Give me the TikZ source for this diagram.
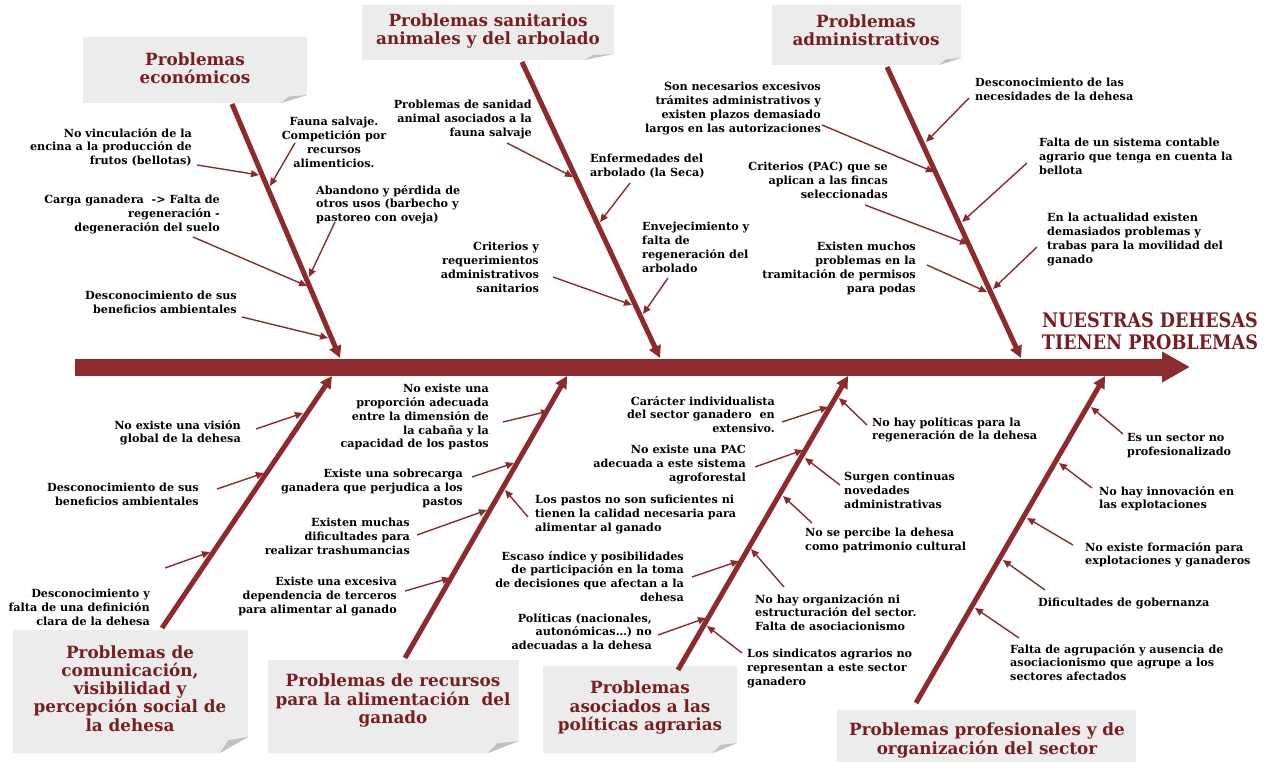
\documentclass[tikz,border=0pt]{standalone}
\usepackage{fontspec}
\setmainfont{DejaVu Serif}
\newfontfamily\headfont{DejaVu Serif}[FakeStretch=0.88]
\usetikzlibrary{arrows.meta}
\definecolor{fish}{RGB}{140,42,46}
\definecolor{ttlcol}{RGB}{120,30,34}
\definecolor{boxgray}{RGB}{236,236,236}
\definecolor{foldgray}{RGB}{192,192,192}
\newcommand{\fishbox}[6]{%
  \fill[boxgray] (#1,#2) -- (#3,#2) -- (#3,#4-#6) -- (#3-#5,#4) -- (#1,#4) -- cycle;
  \fill[foldgray] (#3-#5,#4) -- (#3-#5*0.7,#4-#6*0.8) -- (#3,#4-#6) -- cycle;}
\begin{document}
\begin{tikzpicture}[x=1pt,y=-1pt,
  lbl/.style={font=\bfseries\fontsize{11.2}{13.8}\selectfont, inner sep=0pt, text=black},
  lblr/.style={lbl, align=right, anchor=north east},
  lbll/.style={lbl, align=left, anchor=north west},
  lblc/.style={lbl, align=center, anchor=north},
  ttl/.style={font=\bfseries\fontsize{16.8}{18.2}\selectfont, text=ttlcol, align=center, inner sep=0pt},
  headtxt/.style={font=\headfont\bfseries\fontsize{20}{22}\selectfont, text=ttlcol, align=center, inner sep=0pt},
  bone/.style={draw=fish, line width=5pt, -{Triangle[length=12pt,width=12pt]}},
  cause/.style={draw=fish, line width=1.4pt, -{Triangle[length=8pt,width=7pt]}},
  spine/.style={draw=fish, line width=17pt, -{Triangle[length=28pt,width=29pt]}}
]
\fill[white] (0,0) rectangle (1267,762);
\useasboundingbox (0,0) rectangle (1267,762);

% title boxes
\fishbox{83}{37}{307}{103}{26}{8}
\fishbox{362}{5}{614}{60}{30}{6}
\fishbox{772}{5}{961}{65}{22}{7}
\fishbox{13}{630}{248}{753}{28}{16}
\fishbox{268}{660}{519}{753}{31}{12}
\fishbox{543}{666}{737}{753}{24}{10}
\fill[boxgray] (837,710) rectangle (1136,762);

\node[ttl] (econT) at (195,68.5) {Problemas\\económicos};
\node[ttl] (sanT) at (488,31) {Problemas sanitarios\\animales y del arbolado};
\node[ttl] (admT) at (866,30.5) {Problemas\\administrativos};
\node[ttl] (comT) at (130,688.5) {Problemas de\\comunicación,\\visibilidad y\\percepción social de\\la dehesa};
\node[ttl] (recT) at (393,700.5) {Problemas de recursos\\para la alimentación\ \ del\\ganado};
\node[ttl] (polT) at (640,707.5) {Problemas\\asociados a las\\políticas agrarias};
\node[ttl] (proT) at (987,740.5) {Problemas profesionales y de\\organización del sector};

% branch ends
\coordinate (econB) at (232,104); \coordinate (econS) at (340,358);
\coordinate (sanB) at (522,62);   \coordinate (sanS) at (660,358);
\coordinate (admB) at (887,67);   \coordinate (admS) at (1021,358);
\coordinate (comB) at (162,628);  \coordinate (comS) at (332,376);
\coordinate (recB) at (405,658);  \coordinate (recS) at (567,376);
\coordinate (polB) at (678,670);  \coordinate (polS) at (848,376);
\coordinate (proB) at (916,703);  \coordinate (proS) at (1105,376);
\coordinate (spineL) at (75,367); \coordinate (spineR) at (1190,367);

\draw[bone] (econB) -- (econS);
\draw[bone] (sanB) -- (sanS);
\draw[bone] (admB) -- (admS);
\draw[bone] (comB) -- (comS);
\draw[bone] (recB) -- (recS);
\draw[bone] (polB) -- (polS);
\draw[bone] (proB) -- (proS);
\draw[spine] (spineL) -- (spineR);

\node[headtxt] (head) at (1150,331) {NUESTRAS DEHESAS\\TIENEN PROBLEMAS};

% economic
\node[lblr] (e1) at (192,128) {No vinculación de la\\encina a la producción de\\frutos (bellotas)};
\node[lblc] (e2) at (334,117) {Fauna salvaje.\\Competición por\\recursos\\alimenticios.};
\node[lblr] (e3) at (220,195) {Carga ganadera\ \ -> Falta de\\regeneración -\\degeneración del suelo};
\node[lbll] (e4) at (316,185) {Abandono y pérdida de\\otros usos (barbecho y\\pastoreo con oveja)};
\node[lblr] (e5) at (237,291) {Desconocimiento de sus\\beneficios ambientales};
\draw[cause] (197,165) coordinate (e1a) -- (259,175) coordinate (e1b);
\draw[cause] (295,143) coordinate (e2a) -- (270,186) coordinate (e2b);
\draw[cause] (193,237) coordinate (e3a) -- (307,286) coordinate (e3b);
\draw[cause] (335,222) coordinate (e4a) -- (309,277) coordinate (e4b);
\draw[cause] (242,317) coordinate (e5a) -- (328,338) coordinate (e5b);

% sanitarios
\node[lblr] (s1) at (532,100) {Problemas de sanidad\\animal asociados a la\\fauna salvaje};
\node[lbll] (s2) at (590,154) {Enfermedades del\\arbolado (la Seca)};
\node[lblr] (s3) at (539,242) {Criterios y\\requerimientos\\administrativos\\sanitarios};
\node[lbll] (s4) at (642,222) {Envejecimiento y\\falta de\\regeneración del\\arbolado};
\draw[cause] (507,143) coordinate (s1a) -- (573,177) coordinate (s1b);
\draw[cause] (630,183) coordinate (s2a) -- (600,222) coordinate (s2b);
\draw[cause] (553,277) coordinate (s3a) -- (632,305) coordinate (s3b);
\draw[cause] (668,278) coordinate (s4a) -- (643,314) coordinate (s4b);

% administrativos
\node[lblr] (a1) at (821,82) {Son necesarios excesivos\\trámites administrativos y\\existen plazos demasiado\\largos en las autorizaciones};
\node[lbll] (a2) at (975,78) {Desconocimiento de las\\necesidades de la dehesa};
\node[lbll] (a3) at (1039,138) {Falta de un sistema contable\\agrario que tenga en cuenta la\\bellota};
\node[lblr] (a4) at (888,162) {Criterios (PAC) que se\\aplican a las fincas\\seleccionadas};
\node[lbll] (a5) at (1047,213) {En la actualidad existen\\demasiados problemas y\\trabas para la movilidad del\\ganado};
\node[lblr] (a6) at (916,242) {Existen muchos\\problemas en la\\tramitación de permisos\\para podas};
\draw[cause] (822,125) coordinate (a1a) -- (934,172) coordinate (a1b);
\draw[cause] (969,98) coordinate (a2a) -- (926,142) coordinate (a2b);
\draw[cause] (1027,163) coordinate (a3a) -- (962,222) coordinate (a3b);
\draw[cause] (865,205) coordinate (a4a) -- (968,244) coordinate (a4b);
\draw[cause] (1037,247) coordinate (a5a) -- (993,289) coordinate (a5b);
\draw[cause] (927,265) coordinate (a6a) -- (987,292) coordinate (a6b);

% comunicacion
\node[lblr] (c1) at (241,420) {No existe una visión\\global de la dehesa};
\node[lblr] (c2) at (199,483) {Desconocimiento de sus\\beneficios ambientales};
\node[lblr] (c3) at (150,589) {Desconocimiento y\\falta de una definición\\clara de la dehesa};
\draw[cause] (256,429) coordinate (c1a) -- (303,413) coordinate (c1b);
\draw[cause] (217,489) coordinate (c2a) -- (264,473) coordinate (c2b);
\draw[cause] (165,568) coordinate (c3a) -- (210,552) coordinate (c3b);

% recursos
\node[lblr] (r1) at (489,384) {No existe una\\proporción adecuada\\entre la dimensión de\\la cabaña y la\\capacidad de los pastos};
\node[lblr] (r2) at (463,469) {Existe una sobrecarga\\ganadera que perjudica a los\\pastos};
\node[lblr] (r3) at (410,518) {Existen muchas\\dificultades para\\realizar trashumancias};
\node[lblr] (r4) at (397,577) {Existe una excesiva\\dependencia de terceros\\para alimentar al ganado};
\node[lbll] (r5) at (535,495) {Los pastos no son suficientes ni\\tienen la calidad necesaria para\\alimentar al ganado};
\draw[cause] (503,422) coordinate (r1a) -- (549,411) coordinate (r1b);
\draw[cause] (472,477) coordinate (r2a) -- (514,463) coordinate (r2b);
\draw[cause] (417,535) coordinate (r3a) -- (487,510) coordinate (r3b);
\draw[cause] (405,591) coordinate (r4a) -- (450,578) coordinate (r4b);
\draw[cause] (528,517) coordinate (r5a) -- (505,490) coordinate (r5b);

% politicas
\node[lblr] (p1) at (775,396) {Carácter individualista\\del sector ganadero\ \ en\\extensivo.};
\node[lblr] (p2) at (746,445) {No existe una PAC\\adecuada a este sistema\\agroforestal};
\node[lblr] (p3) at (684,551) {Escaso índice y posibilidades\\de participación en la toma\\de decisiones que afectan a la\\dehesa};
\node[lblr] (p4) at (652,613) {Políticas (nacionales,\\autonómicas…) no\\adecuadas a la dehesa};
\node[lbll] (p5) at (872,417) {No hay políticas para la\\regeneración de la dehesa};
\node[lbll] (p6) at (844,472) {Surgen continuas\\novedades\\administrativas};
\node[lbll] (p7) at (805,528) {No se percibe la dehesa\\como patrimonio cultural};
\node[lbll] (p8) at (755,594) {No hay organización ni\\estructuración del sector.\\Falta de asociacionismo};
\node[lbll] (p9) at (747,649) {Los sindicatos agrarios no\\representan a este sector\\ganadero};
\draw[cause] (782,422) coordinate (p1a) -- (828,407) coordinate (p1b);
\draw[cause] (755,467) coordinate (p2a) -- (803,450) coordinate (p2b);
\draw[cause] (692,577) coordinate (p3a) -- (739,561) coordinate (p3b);
\draw[cause] (658,635) coordinate (p4a) -- (706,618) coordinate (p4b);
\draw[cause] (867,425) coordinate (p5a) -- (839,398) coordinate (p5b);
\draw[cause] (840,485) coordinate (p6a) -- (805,458) coordinate (p6b);
\draw[cause] (812,523) coordinate (p7a) -- (783,496) coordinate (p7b);
\draw[cause] (784,587) coordinate (p8a) -- (751,549) coordinate (p8b);
\draw[cause] (742,653) coordinate (p9a) -- (707,626) coordinate (p9b);

% profesionales
\node[lbll] (f1) at (1127,433) {Es un sector no\\profesionalizado};
\node[lbll] (f2) at (1099,486) {No hay innovación en\\las explotaciones};
\node[lbll] (f3) at (1085,542) {No existe formación para\\explotaciones y ganaderos};
\node[lbll] (f4) at (1038,598) {Dificultades de gobernanza};
\node[lbll] (f5) at (1010,644) {Falta de agrupación y ausencia de\\asociacionismo que agrupe a los\\sectores afectados};
\draw[cause] (1123,434) coordinate (f1a) -- (1091,407) coordinate (f1b);
\draw[cause] (1092,488) coordinate (f2a) -- (1059,463) coordinate (f2b);
\draw[cause] (1073,545) coordinate (f3a) -- (1027,518) coordinate (f3b);
\draw[cause] (1045,590) coordinate (f4a) -- (1003,560) coordinate (f4b);
\draw[cause] (1019,638) coordinate (f5a) -- (975,608) coordinate (f5b);
\end{tikzpicture}
\end{document}
